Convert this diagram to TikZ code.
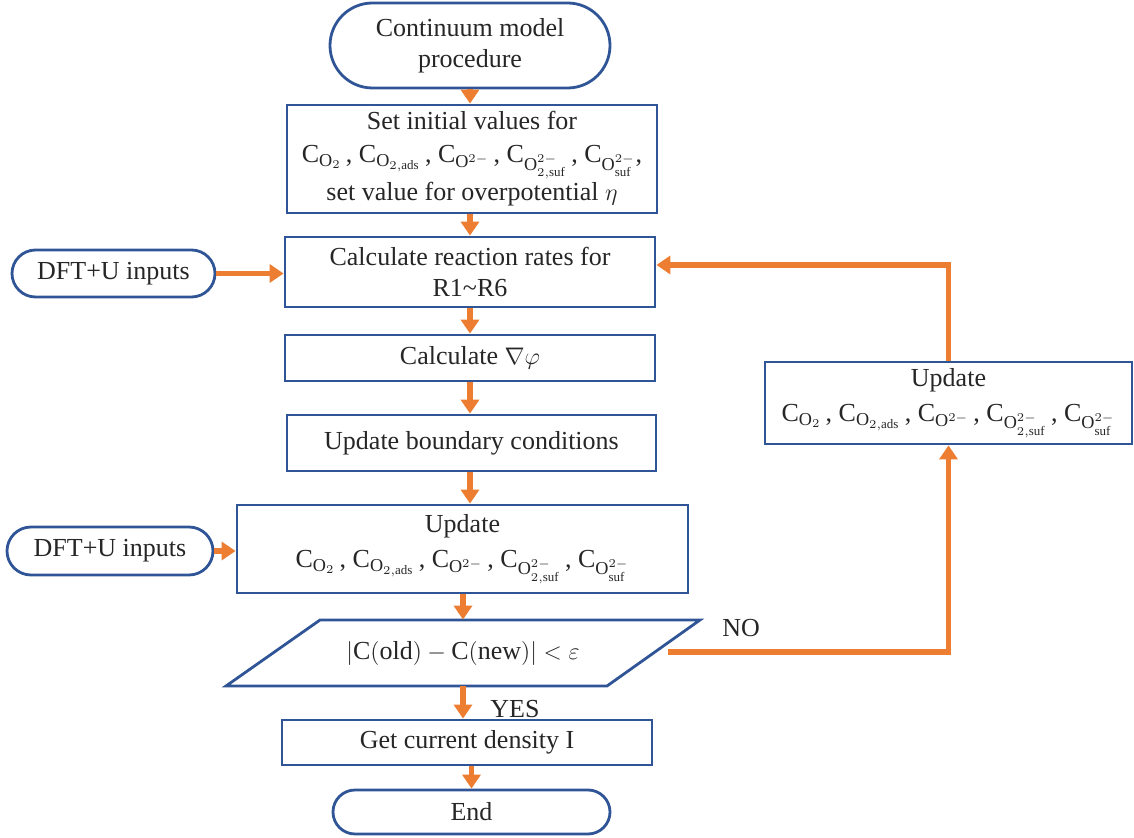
\documentclass[tikz,border=0pt]{standalone}
\usepackage{fontspec}
\setmainfont{Liberation Serif}
\usetikzlibrary{arrows.meta,shapes.misc,calc}
\definecolor{bordblue}{HTML}{2F5597}
\definecolor{arrorange}{HTML}{ED7D31}
\newcommand{\Cs}{$\mathrm{C}_{\mathrm{O}_2}$\,, $\mathrm{C}_{\mathrm{O}_{2,\mathrm{ads}}}$\,, $\mathrm{C}_{\mathrm{O}^{2-}}$\,, $\mathrm{C}_{\mathrm{O}^{2-}_{2,\mathrm{suf}}}$\,, $\mathrm{C}_{\mathrm{O}^{2-}_{\mathrm{suf}}}$}
\begin{document}
\begin{tikzpicture}[x=0.5pt,y=-0.5pt,
  every node/.style={font=\fontsize{13}{15.5}\selectfont, text=black!85, inner sep=0pt},
  procbox/.style={draw=bordblue, line width=1.4pt, rectangle, align=center},
  termbox/.style={draw=bordblue, line width=1.4pt, rounded rectangle, align=center},
  flow/.style={draw=arrorange, line width=2.8pt, -{Triangle[length=7pt,width=9pt]}}
]
\useasboundingbox (0,0) rectangle (1134,838);

\node[termbox, minimum width=140pt, minimum height=42.5pt] (start) at (470,45.5) {Continuum model\\procedure};
\node[procbox, minimum width=185pt, minimum height=54pt] (b1) at (472,159) {Set initial values for\\[1pt] \Cs,\\[1pt] set value for overpotential $\eta$};
\node[procbox, minimum width=185pt, minimum height=35pt] (b2) at (470,272) {Calculate reaction rates for\\ R1\textasciitilde R6};
\node[procbox, minimum width=185pt, minimum height=23pt] (b3) at (470,358) {Calculate $\nabla\varphi$};
\node[procbox, minimum width=184.5pt, minimum height=28pt] (b4) at (471.5,443) {Update boundary conditions};
\node[procbox, minimum width=225.5pt, minimum height=44pt] (b5) at (462.5,549) {Update\\[2pt] \Cs};
\node[minimum width=150pt, minimum height=33pt] (cond) at (463,653) {$|\mathrm{C}(\mathrm{old})-\mathrm{C}(\mathrm{new})|<\varepsilon$};
\coordinate (p1) at (320,620);
\coordinate (p2) at (700,620);
\coordinate (p3) at (607,686);
\coordinate (p4) at (226,686);
\draw[bordblue, line width=1.4pt, line join=miter] (p1) -- (p2) -- (p3) -- (p4) -- cycle;
\node[procbox, minimum width=185pt, minimum height=22.5pt] (b6) at (467,742.5) {Get current density I};
\node[termbox, minimum width=138.5pt, minimum height=22pt] (end) at (471.5,812) {End};

\node[termbox, minimum width=101.5pt, minimum height=23.5pt] (dft1) at (113.5,273.5) {DFT+U inputs};
\node[termbox, minimum width=103pt, minimum height=24pt] (dft2) at (110,551) {DFT+U inputs};

\node[procbox, minimum width=183.5pt, minimum height=41pt] (upd) at (948.5,403) {Update\\[2pt] \Cs};

\coordinate (nostart) at (668,652);

\draw[flow] (start.south) -- (start.south |- b1.north);
\draw[flow] (b1.south -| start.south) -- (start.south |- b2.north);
\draw[flow] (b2.south) -- (b3.north);
\draw[flow] (b3.south) -- (b3.south |- b4.north);
\draw[flow] (b4.south -| b3.south) -- (b3.south |- b5.north);
\draw[flow] (b5.south -| cond.north) -- (cond.north);
\draw[flow] (cond.south) -- (cond.south |- b6.north);
\draw[flow] (b6.south -| end.north) -- (end.north);
\draw[flow] (dft1.east) -- (dft1.east -| b2.west);
\draw[flow] (dft2.east) -- (dft2.east -| b5.west);
\draw[flow] (nostart) -| (upd.south);
\draw[flow] (upd.north) |- ($(b2.east)+(0,-7)$);

\node[anchor=west] (yes) at (490,709) {YES};
\node[anchor=west] (no) at (722,628) {NO};
\end{tikzpicture}
\end{document}
